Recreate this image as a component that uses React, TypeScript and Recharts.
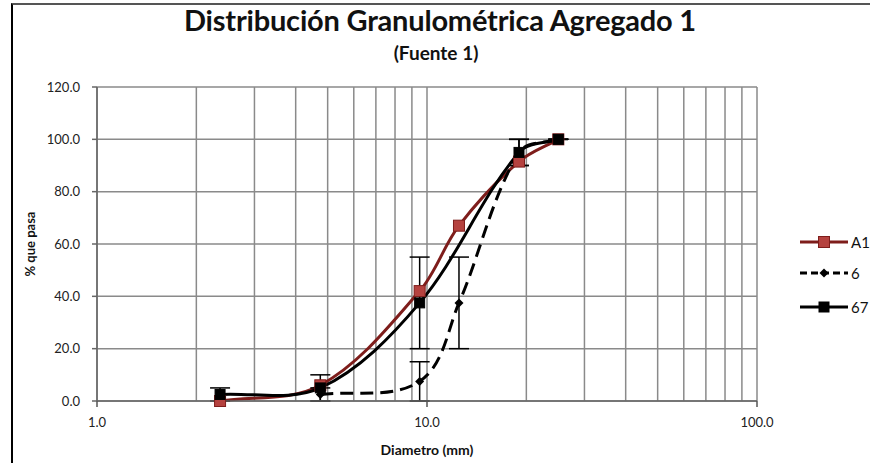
import { LineChart, Line, XAxis, YAxis, CartesianGrid, ErrorBar } from "recharts";

const sizesA1 = [2.36, 4.75, 9.5, 12.5, 19, 25];
const passA1 = [0, 6, 42, 67, 91.5, 100];

const sizes6 = [4.75, 9.5, 12.5, 19, 25];
const pass6 = [2.5, 7.5, 37.5, 95, 100];
const low6 = [0, 0, 20, 90, 100];
const high6 = [5, 15, 55, 100, 100];

const sizes67 = [2.36, 4.75, 9.5, 19, 25];
const pass67 = [2.5, 5, 37.5, 95, 100];
const low67 = [0, 0, 20, 90, 100];
const high67 = [5, 10, 55, 100, 100];

const xTicks = [1, 2, 3, 4, 5, 6, 7, 8, 9, 10, 20, 30, 40, 50, 60, 70, 80, 90, 100];
const xLabels = [1, 10, 100];
const yTicks = [0, 20, 40, 60, 80, 100, 120];

const FONT = "Lato, 'Open Sans', sans-serif";
const RED = "#7e1d1b";
const RED_FILL = "#b5423f";

const dataA1 = sizesA1.map((d, i) => ({ d, p: passA1[i] }));
const data6 = sizes6.map((d, i) => ({ d, p: pass6[i], err: [pass6[i] - low6[i], high6[i] - pass6[i]] }));
const data67 = sizes67.map((d, i) => ({ d, p: pass67[i], err: [pass67[i] - low67[i], high67[i] - pass67[i]] }));

// excel-like smoothing: tangent from the neighbours, handle length from the segment itself
function smooth(context: any) {
  let pts: number[][] = [];
  const k = 0.33;
  const handle = (a: number[], b: number[], c: number[], len: number) => {
    const dx = c[0] - a[0];
    const dy = c[1] - a[1];
    const n = Math.hypot(dx, dy) || 1;
    return [b[0] + (dx / n) * len * k, b[1] + (dy / n) * len * k];
  };
  return {
    areaStart() {},
    areaEnd() {},
    lineStart() {
      pts = [];
    },
    point(x: number, y: number) {
      pts.push([+x, +y]);
    },
    lineEnd() {
      if (!pts.length) return;
      context.moveTo(pts[0][0], pts[0][1]);
      for (let i = 0; i < pts.length - 1; i++) {
        const p0 = pts[i - 1] || pts[i];
        const p1 = pts[i];
        const p2 = pts[i + 1];
        const p3 = pts[i + 2] || p2;
        const len = Math.hypot(p2[0] - p1[0], p2[1] - p1[1]);
        const c1 = handle(p0, p1, p2, len);
        const c2 = handle(p3, p2, p1, len);
        context.bezierCurveTo(c1[0], c1[1], c2[0], c2[1], p2[0], p2[1]);
      }
    },
  };
}

const square = (fill: string, stroke: string, s: number) => (props: any) => (
  <rect
    key={props.index}
    x={props.cx - s / 2}
    y={props.cy - s / 2}
    width={s}
    height={s}
    fill={fill}
    stroke={stroke}
    strokeWidth={1}
  />
);

const diamond = (props: any) => {
  const s = 4.5;
  const { cx, cy } = props;
  return (
    <path
      key={props.index}
      d={`M${cx},${cy - s}L${cx + s},${cy}L${cx},${cy + s}L${cx - s},${cy}Z`}
      fill="#000"
    />
  );
};

const XTick = (props: any) => {
  const { x, y, payload } = props;
  if (!xLabels.includes(payload.value)) return <g />;
  return (
    <g>
      <line x1={x} x2={x} y1={y - 8} y2={y - 2} stroke="#555" strokeWidth={1.5} />
      <text x={x} y={y + 18} textAnchor="middle" fontSize={13} fill="#222" fontFamily={FONT}>
        {payload.value.toFixed(1)}
      </text>
    </g>
  );
};

const legendItems = [
  { name: "A1", color: RED, dash: "", marker: "sq", fill: RED_FILL, size: 11 },
  { name: "6", color: "#000", dash: "7 4", marker: "di", fill: "#000", size: 8 },
  { name: "67", color: "#000", dash: "", marker: "sq", fill: "#000", size: 10 },
];

export default function App() {
  return (
    <div style={{ position: "absolute", left: 0, top: 0, width: 870, height: 463, background: "#fff", fontFamily: FONT }}>
      <div
        style={{
          position: "absolute",
          left: 11,
          top: 3,
          width: 880,
          height: 480,
          borderLeft: "2px solid #000",
          borderTop: "2px solid #555",
        }}
      />
      <div style={{ position: "absolute", left: 0, width: 880, top: 2, textAlign: "center", fontSize: 29, fontWeight: 700, color: "#111", letterSpacing: -0.2 }}>
        Distribución Granulométrica Agregado 1
      </div>
      <div style={{ position: "absolute", left: 0, width: 872, top: 41, textAlign: "center", fontSize: 19, fontWeight: 700, color: "#111" }}>
        (Fuente 1)
      </div>
      <div
        style={{
          position: "absolute",
          left: 30,
          top: 244,
          transform: "translate(-50%, -50%) rotate(-90deg)",
          fontSize: 13,
          fontWeight: 700,
          whiteSpace: "nowrap",
          color: "#111",
        }}
      >
        % que pasa
      </div>
      <div style={{ position: "absolute", left: 327, width: 200, top: 441, textAlign: "center", fontSize: 14, fontWeight: 700, color: "#111" }}>
        Diametro (mm)
      </div>

      <LineChart width={870} height={463} margin={{ top: 87, right: 113, bottom: 32, left: 37 }} style={{ position: "absolute", left: 0, top: 0 }}>
        <CartesianGrid stroke="#8a8a8a" strokeWidth={1.5} />
        <XAxis
          dataKey="d"
          type="number"
          scale="log"
          domain={[1, 100]}
          ticks={xTicks}
          interval={0}
          allowDataOverflow
          height={30}
          stroke="#666"
          strokeWidth={1.5}
          tickLine={false}
          tick={<XTick />}
        />
        <YAxis
          type="number"
          domain={[0, 120]}
          ticks={yTicks}
          width={60}
          stroke="#666"
          strokeWidth={1.5}
          tickSize={5}
          tickMargin={12}
          tick={{ fontSize: 13, fill: "#222", fontFamily: FONT }}
          tickFormatter={(v: number) => v.toFixed(1)}
        />
        <Line
          data={dataA1}
          dataKey="p"
          type={smooth as any}
          stroke={RED}
          strokeWidth={3}
          dot={square(RED_FILL, RED, 11)}
          isAnimationActive={false}
        />
        <Line
          data={data6}
          dataKey="p"
          type={smooth as any}
          stroke="#000"
          strokeWidth={3}
          strokeDasharray="13 7"
          dot={diamond}
          isAnimationActive={false}
        >
          <ErrorBar dataKey="err" direction="y" width={10} stroke="#000" strokeWidth={1.5} />
        </Line>
        <Line
          data={data67}
          dataKey="p"
          type={smooth as any}
          stroke="#000"
          strokeWidth={3}
          dot={square("#000", "#000", 10)}
          isAnimationActive={false}
        >
          <ErrorBar dataKey="err" direction="y" width={10} stroke="#000" strokeWidth={1.5} />
        </Line>
      </LineChart>

      <div style={{ position: "absolute", left: 798, top: 226 }}>
        {legendItems.map((it, i) => (
          <div key={it.name} style={{ display: "flex", alignItems: "center", height: 31, marginTop: i === 2 ? 3 : 0 }}>
            <svg width={52} height={20}>
              <line x1={2} x2={50} y1={10} y2={10} stroke={it.color} strokeWidth={3} strokeDasharray={it.dash} />
              {it.marker === "sq" ? (
                <rect x={26 - it.size / 2} y={10 - it.size / 2} width={it.size} height={it.size} fill={it.fill} stroke={it.color} />
              ) : (
                <path d="M26,5.5L30.5,10L26,14.5L21.5,10Z" fill="#000" />
              )}
            </svg>
            <span style={{ fontSize: 15, color: "#111", marginLeft: 1 }}>{it.name}</span>
          </div>
        ))}
      </div>
    </div>
  );
}
